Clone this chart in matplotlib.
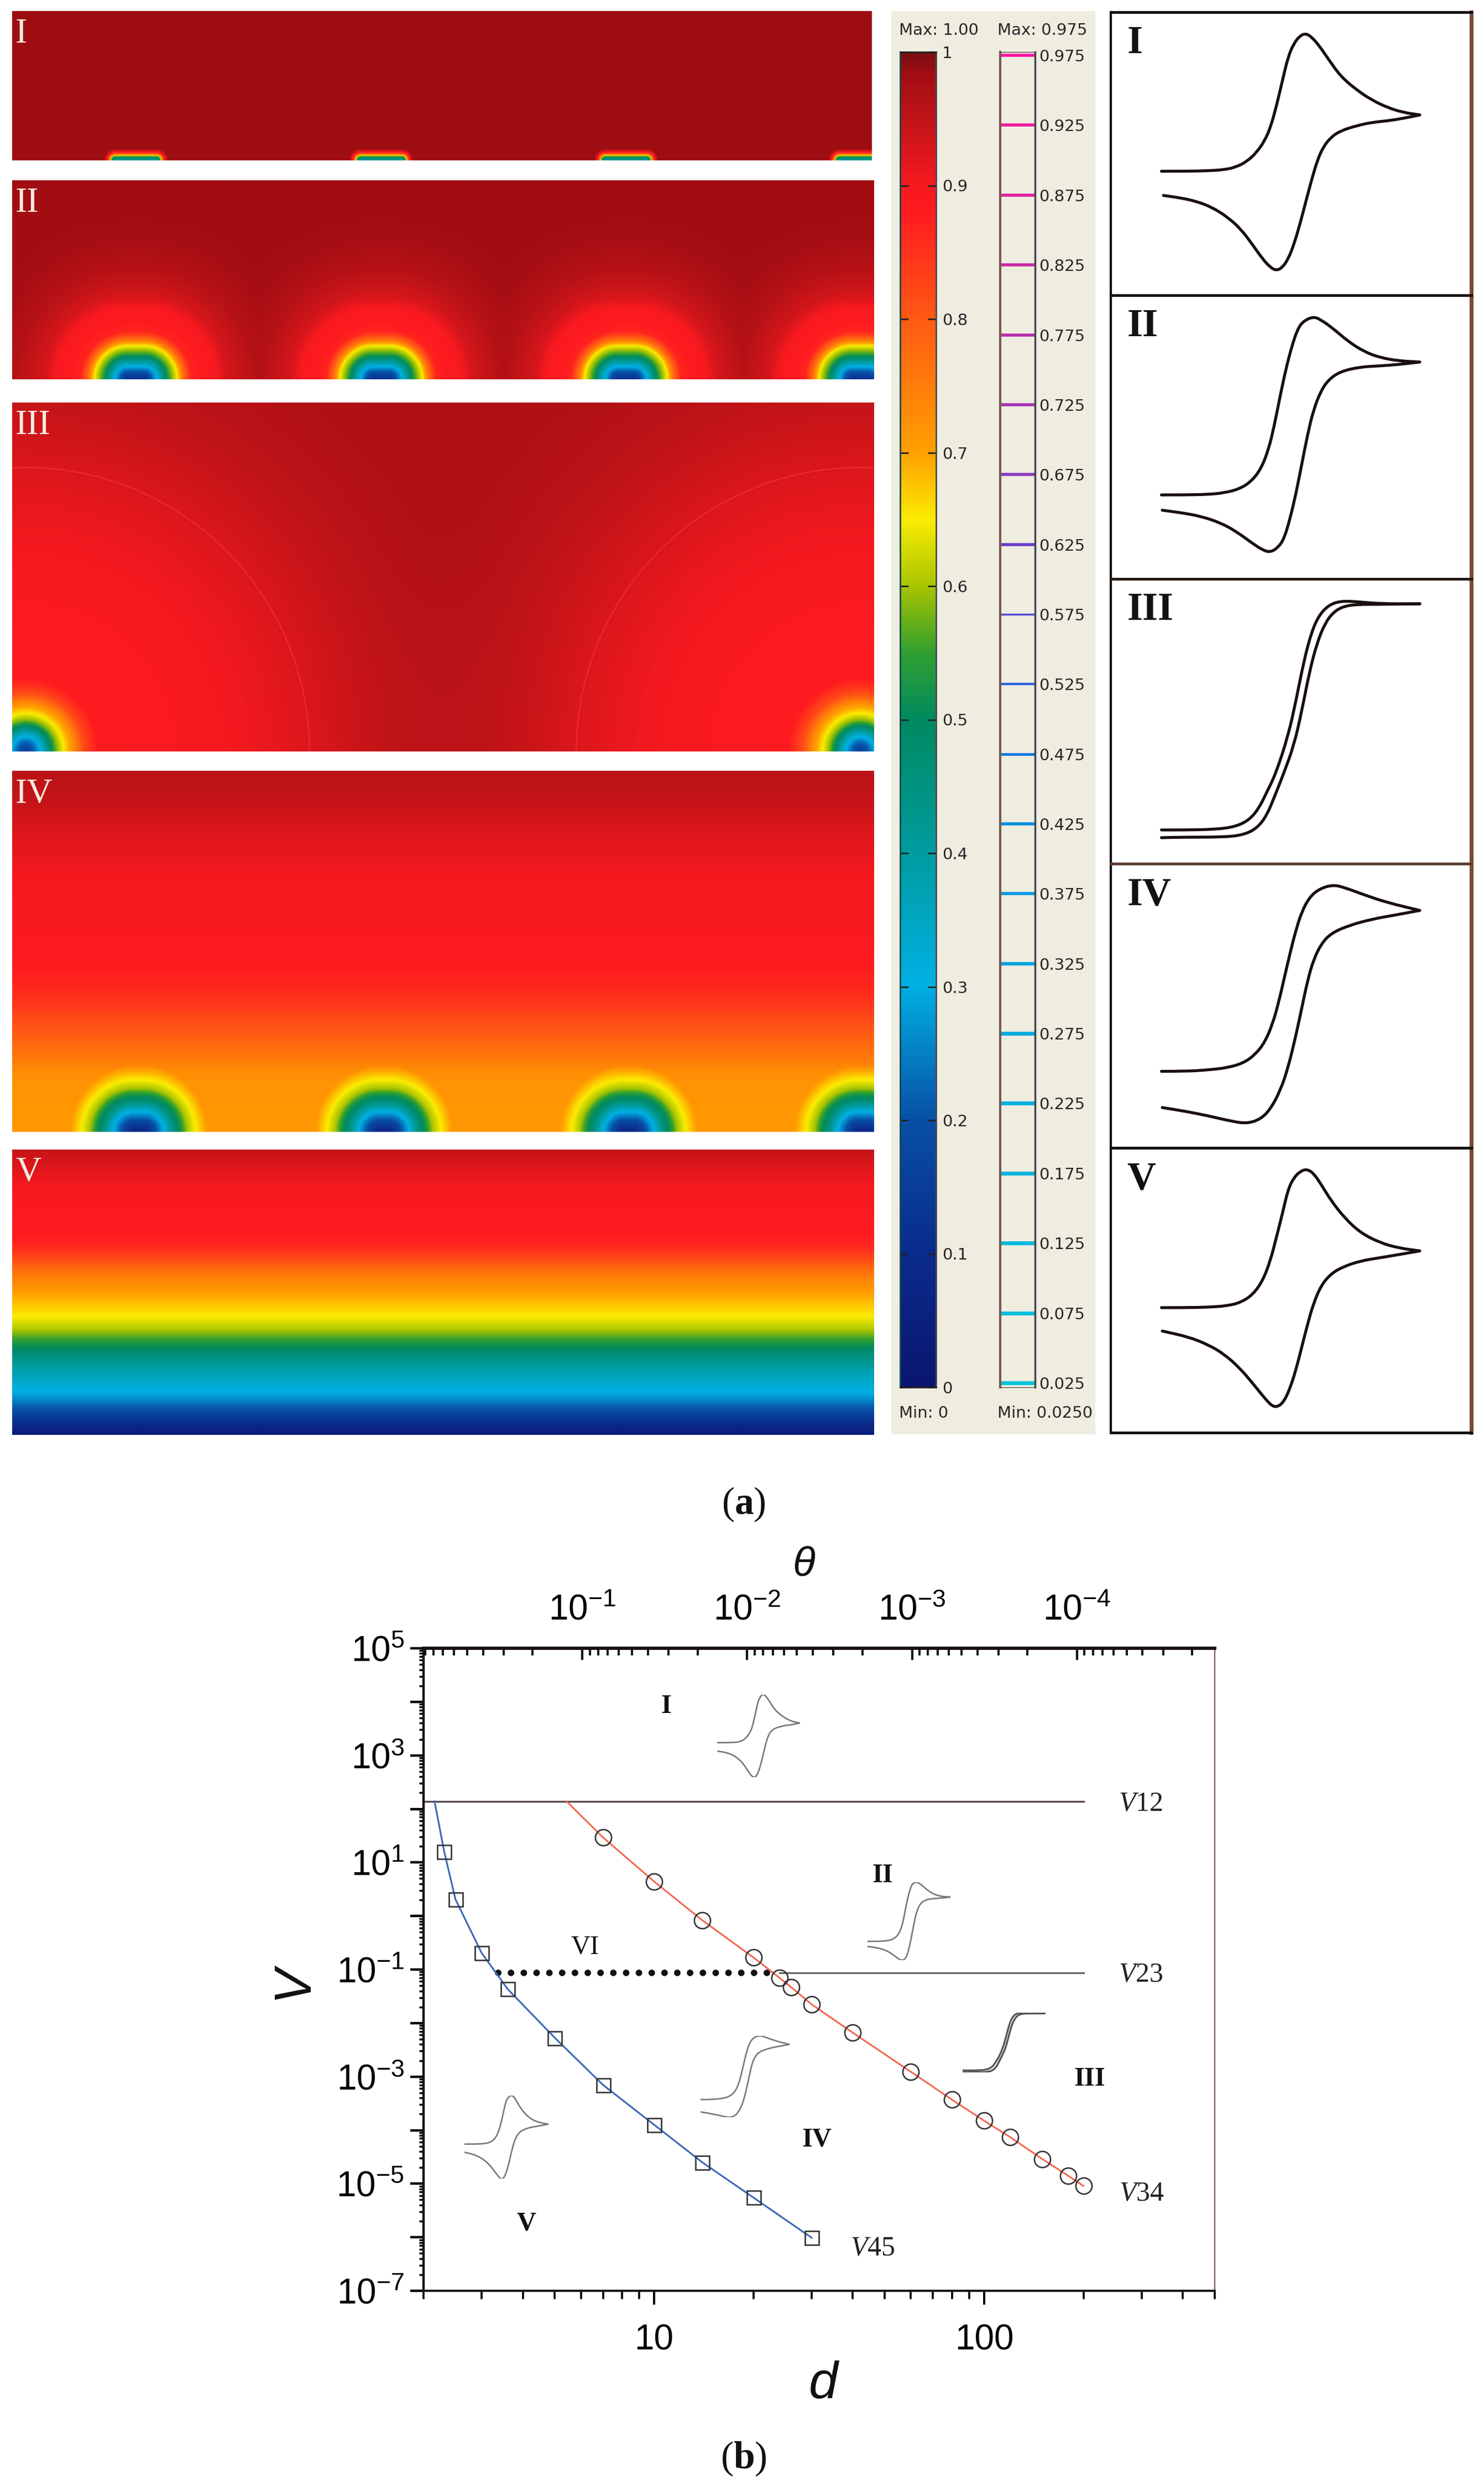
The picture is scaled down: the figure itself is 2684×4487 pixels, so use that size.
import numpy as np
import matplotlib
matplotlib.use("Agg")
import matplotlib.pyplot as plt
from matplotlib.colors import LinearSegmentedColormap
from matplotlib.patches import PathPatch
from matplotlib.path import Path
from matplotlib.ticker import LogLocator, NullFormatter

plt.rcParams['font.family'] = ['DejaVu Sans']
plt.rcParams['mathtext.fontset'] = 'custom'
plt.rcParams['mathtext.rm'] = 'Liberation Sans'
plt.rcParams['mathtext.it'] = 'Liberation Serif:italic'
plt.rcParams['mathtext.bf'] = 'Liberation Serif:bold'

# colour scale of the concentration maps
scale_pos = [0, 0.1, 0.2, 0.3, 0.4, 0.5, 0.55, 0.6, 0.65, 0.7, 0.8, 0.88, 0.9, 0.95, 0.985, 1]
scale_col = ['#0a1670', '#0a2c8c', '#0850a8', '#00b0e4', '#009ca0', '#008a60', '#30a030', '#a8c400',
             '#fbec00', '#ffa000', '#ff5a14', '#ff1c20', '#f81a20', '#c01418', '#a10d12', '#781012']

# contour levels of the second bar
level_values = [0.975, 0.925, 0.875, 0.825, 0.775, 0.725, 0.675, 0.625, 0.575, 0.525,
                0.475, 0.425, 0.375, 0.325, 0.275, 0.225, 0.175, 0.125, 0.075, 0.025]
level_widths = [4, 4, 4, 4, 4, 4, 4, 4, 2.5, 3, 3.5, 4, 4, 4.5, 5, 5, 5, 5, 5, 5]
level_pos = [0.025, 0.3, 0.45, 0.525, 0.6, 0.75, 0.875, 0.975]
level_col = ['#00c4d8', '#00a8e0', '#0088e0', '#2a60e0', '#6040d0', '#b030b0', '#e020a0', '#ff10a0']
bar_values = [0, 0.1, 0.2, 0.3, 0.4, 0.5, 0.6, 0.7, 0.8, 0.9, 1]
bar_labels = ['0', '0.1', '0.2', '0.3', '0.4', '0.5', '0.6', '0.7', '0.8', '0.9', '1']

# electrode positions along the maps
centres_I = [245, 689, 1132, 1556]
centres_II = [245, 689, 1132, 1556]
centres_III = [46, 1556]
centres_IV = [250, 694, 1137, 1561]

# concentration against distance from an electrode
r_I = [0, 5, 9, 13, 20, 40]
c_I = [0.42, 0.5, 0.72, 0.88, 0.985, 0.985]
r_II = [0, 12, 22, 35, 45, 60, 72, 85, 130, 150, 200, 260, 500]
c_II = [0.12, 0.2, 0.3, 0.45, 0.55, 0.65, 0.78, 0.87, 0.9, 0.93, 0.96, 0.98, 0.985]
r_III = [0, 15, 28, 42, 55, 68, 85, 105, 130, 350, 450, 510, 700, 900]
c_III = [0.15, 0.22, 0.32, 0.47, 0.58, 0.65, 0.72, 0.82, 0.88, 0.9, 0.915, 0.925, 0.96, 0.985]
r_IV = [0, 18, 35, 52, 65, 78, 93, 115, 135]
c_IV = [0.08, 0.18, 0.3, 0.45, 0.52, 0.6, 0.65, 0.71, 1.0]
h_IV = [0, 100, 130, 180, 250, 330, 450, 530, 600, 653]
b_IV = [0.71, 0.72, 0.75, 0.8, 0.86, 0.89, 0.9, 0.92, 0.945, 0.955]
h_V = [0, 20, 45, 76, 116, 147, 161, 188, 213, 246, 286, 330, 357, 446, 509, 516]
b_V = [0.03, 0.1, 0.2, 0.3, 0.38, 0.47, 0.52, 0.6, 0.65, 0.69, 0.75, 0.85, 0.88, 0.9, 0.94, 0.95]

# voltammograms, potential and current in the units of each frame
E1 = [740, 800, 860, 900, 930, 960, 985, 1005, 1020, 1035, 1050, 1065, 1080, 1095, 1110, 1125, 1145, 1170, 1200, 1240,
      1280, 1320, 1360, 1403, 1360, 1320, 1280, 1240, 1200, 1175, 1155, 1140, 1125, 1110, 1095, 1080, 1065, 1050, 1035,
      1020, 1000, 975, 945, 910, 870, 830, 790, 745]
i1 = [347, 347, 346, 344, 339, 327, 308, 285, 258, 215, 165, 115, 88, 73, 68, 75, 93, 122, 155, 182,
      203, 218, 228, 233, 240, 245, 248, 255, 265, 278, 298, 325, 365, 410, 455, 495, 525, 542, 548,
      542, 525, 497, 465, 440, 420, 408, 401, 396]
E2 = [740, 800, 860, 900, 940, 970, 995, 1015, 1030, 1045, 1060, 1075, 1090, 1105, 1130, 1150, 1180, 1220, 1260, 1300,
      1350, 1403, 1350, 1300, 1250, 1200, 1170, 1150, 1130, 1115, 1100, 1085, 1070, 1055, 1040, 1020, 1000, 970, 930,
      890, 840, 790, 742]
i2 = [1002, 1002, 1001, 998, 990, 975, 950, 910, 860, 800, 745, 700, 665, 650, 641, 648, 665, 692, 712, 724,
      731, 733, 738, 741, 743, 752, 768, 790, 830, 880, 940, 1000, 1050, 1090, 1108, 1118, 1114, 1098, 1075,
      1058, 1045, 1038, 1033]
E3a = [1403, 1300, 1240, 1200, 1170, 1145, 1125, 1105, 1085, 1065, 1033, 1010, 990, 965, 930, 880, 800, 740]
i3a = [1092, 1092, 1088, 1087, 1094, 1112, 1143, 1197, 1268, 1331, 1400, 1433, 1462, 1483, 1495, 1500, 1501, 1501]
E3b = [1403, 1300, 1240, 1205, 1180, 1160, 1140, 1120, 1100, 1080, 1053, 1030, 1010, 985, 950, 900, 800, 740]
i3b = [1092, 1093, 1093, 1097, 1108, 1127, 1161, 1214, 1286, 1348, 1400, 1441, 1475, 1498, 1510, 1514, 1514, 1515]
E4 = [740, 800, 860, 910, 950, 980, 1005, 1025, 1040, 1055, 1070, 1085, 1100, 1120, 1145, 1180, 1210, 1260, 1320, 1403,
      1340, 1280, 1220, 1175, 1150, 1130, 1115, 1100, 1085, 1065, 1045, 1020, 995, 960, 920, 860, 800, 742]
i4 = [648, 648, 645, 640, 630, 612, 585, 545, 500, 445, 390, 340, 300, 268, 250, 241, 247, 263, 280, 297,
      307, 316, 330, 347, 370, 405, 450, 510, 570, 640, 690, 730, 752, 762, 757, 745, 735, 727]
E5 = [740, 800, 860, 910, 945, 975, 1000, 1020, 1035, 1050, 1065, 1080, 1095, 1112, 1130, 1150, 1175, 1210, 1250, 1300,
      1350, 1403, 1350, 1300, 1250, 1205, 1175, 1150, 1130, 1115, 1100, 1085, 1070, 1055, 1040, 1025, 1005, 975, 940,
      900, 860, 810, 742]
i5 = [1164, 1164, 1163, 1160, 1152, 1135, 1105, 1060, 1010, 960, 905, 880, 867, 861, 870, 895, 930, 968, 1000, 1022,
      1034, 1040, 1048, 1055, 1062, 1075, 1090, 1115, 1155, 1200, 1250, 1300, 1340, 1368, 1380, 1380, 1362, 1330, 1295,
      1265, 1245, 1228, 1215]

# zone diagram
d_34 = [7, 10, 14, 20, 24, 26, 30, 40, 60, 80, 100, 120, 150, 180, 200]
v_34 = [29.3, 4.4, 0.83, 0.168, 0.0697, 0.047, 0.0224, 6.6e-3, 1.23e-3, 3.7e-4, 1.5e-4, 7.4e-5, 2.9e-5, 1.4e-5, 9.1e-6]
d_45 = [2.31, 2.5, 3.0, 3.6, 5, 7, 10, 14, 20, 30]
v_45 = [16, 2.04, 0.204, 0.043, 5.3e-3, 7e-4, 1.26e-4, 2.5e-5, 5.5e-6, 9.8e-7]
d_34_line = [5.43] + d_34
v_34_line = [138] + v_34
d_45_line = [2.16] + d_45
v_45_line = [138] + v_45
v12_d = [2, 200]
v12_v = [138, 138]
v23_d = [24, 200]
v23_v = [0.087, 0.087]
vi_d = [3.37, 23.5]
vi_v = [0.087, 0.087]
y_ticks = [1e-7, 1e-6, 1e-5, 1e-4, 1e-3, 1e-2, 1e-1, 1, 10, 100, 1e3, 1e4, 1e5]
y_labels = ['$\\mathdefault{10^{-7}}$', '', '$\\mathdefault{10^{-5}}$', '', '$\\mathdefault{10^{-3}}$', '',
            '$\\mathdefault{10^{-1}}$', '', '$\\mathdefault{10^{1}}$', '', '$\\mathdefault{10^{3}}$', '',
            '$\\mathdefault{10^{5}}$']
x_ticks = [10, 100]
x_labels = ['10', '100']
top_ticks = [1e-1, 1e-2, 1e-3, 1e-4]
top_labels = ['$\\mathdefault{10^{-1}}$', '$\\mathdefault{10^{-2}}$', '$\\mathdefault{10^{-3}}$', '$\\mathdefault{10^{-4}}$']

W, H = 2684, 4487
fig = plt.figure(figsize=(W / 100, H / 100), dpi=100, facecolor='white')


def box(x0, y0, x1, y1):
    # pixel box of the picture -> axes rectangle
    return [x0 / W, 1 - y1 / H, (x1 - x0) / W, (y1 - y0) / H]


def label(x, y, s, **kw):
    return fig.text(x / W, 1 - y / H, s, **kw)


def cv_patch(ax, e, i, col, lw):
    # quadratic curve through the read points, the far tip stays sharp
    tip = int(np.argmax(e))
    e = list(e[:tip + 1]) + list(e[tip:])
    i = list(i[:tip + 1]) + list(i[tip:])
    verts = [(e[0], i[0])]
    codes = [Path.MOVETO]
    for k in range(1, len(e) - 1):
        verts += [(e[k], i[k]), ((e[k] + e[k + 1]) / 2, (i[k] + i[k + 1]) / 2)]
        codes += [Path.CURVE3, Path.CURVE3]
    verts.append((e[-1], i[-1]))
    codes.append(Path.LINETO)
    ax.add_patch(PathPatch(Path(verts, codes), fc='none', ec=col, lw=lw, capstyle='round', joinstyle='round'))


cmap = LinearSegmentedColormap.from_list('conc', list(zip(scale_pos, scale_col)), N=512)
cmap2 = LinearSegmentedColormap.from_list('lev', [((p - 0.025) / 0.95, c) for p, c in zip(level_pos, level_col)])


def conc_field(x0, x1, height, centres, w, r, c, h_base=None, base=None, soft=None):
    xs, hs = np.meshgrid(np.arange(x0, x1, 2.0), np.arange(0, height, 2.0))
    f = np.ones_like(xs)
    for cx in centres:
        dx = np.maximum(np.abs(xs - cx) - w, 0)
        g = np.interp(np.hypot(dx, hs), r, c)
        if soft:
            # no hard crease where two electrodes meet
            f = -np.logaddexp(-soft * f, -soft * g) / soft
        else:
            f = np.minimum(f, g)
    if base is not None:
        f = np.minimum(f, np.interp(hs, h_base, base))
    return xs, hs, f


# concentration maps
maps = [(22, 20, 1577, 290, 'I', centres_I, 38, r_I, c_I, None, None, None),
        (22, 326, 1581, 686, 'II', centres_II, 15, r_II, c_II, None, None, None),
        (22, 728, 1581, 1359, 'III', centres_III, 0, r_III, c_III, None, None, 60),
        (22, 1394, 1581, 2047, 'IV', centres_IV, 10, r_IV, c_IV, h_IV, b_IV, None),
        (22, 2079, 1581, 2595, 'V', [], 0, [0, 1], [1, 1], h_V, b_V, None)]
for x0, y0, x1, y1, name, centres, w, r, c, hb, b, soft in maps:
    ax = fig.add_axes(box(x0, y0, x1, y1))
    xs, hs, f = conc_field(x0, x1, y1 - y0, centres, w, r, c, hb, b, soft)
    ax.imshow(f, origin='lower', extent=(x0, x1, 0, y1 - y0), cmap=cmap, vmin=0, vmax=1,
              aspect='auto', interpolation='bilinear')
    if name == 'III':
        ax.contour(xs, hs, f, levels=[0.925], colors='#ea262c', linewidths=2)
    ax.set_xlim(x0, x1)
    ax.set_ylim(0, y1 - y0)
    ax.axis('off')
    ax.text(x0 + 6, y1 - y0 - 42, name, family='Liberation Serif', fontsize=46, color='#f4ece0',
            va='center', ha='left')

# beige background of the two bars
bg = fig.add_axes(box(1612, 20, 1981, 2594))
bg.set_facecolor('#efece0')
bg.set_xticks([])
bg.set_yticks([])
for s in bg.spines.values():
    s.set_visible(False)
text_col = '#262626'
label(1626, 55, 'Max: 1.00', fontsize=21, color=text_col, va='center', ha='left')
label(1804, 55, 'Max: 0.975', fontsize=21, color=text_col, va='center', ha='left')
label(1626, 2556, 'Min: 0', fontsize=21, color=text_col, va='center', ha='left')
label(1804, 2556, 'Min: 0.0250', fontsize=21, color=text_col, va='center', ha='left')

# colour bar
cb = fig.add_axes(box(1628, 94, 1693, 2509))
cb.imshow(np.linspace(0, 1, 512).reshape(-1, 1), origin='lower', extent=(0, 1, 0, 1), cmap=cmap,
          aspect='auto', vmin=0, vmax=1)
cb.set_xticks([])
cb.set_yticks(bar_values)
cb.set_yticklabels(bar_labels, fontsize=21, color=text_col)
cb.tick_params(axis='y', direction='in', left=True, right=True, labelleft=False, labelright=True,
               length=11, width=2, pad=8, color='#222222')
for side, col in zip(['left', 'right', 'top', 'bottom'], ['#104850', '#4a4a50', '#222222', '#222222']):
    cb.spines[side].set_color(col)
    cb.spines[side].set_linewidth(2)

# contour level bar
lv = fig.add_axes(box(1809, 94, 1872, 2509))
lv.set_facecolor('#efece0')
lv.hlines(level_values, 0, 1, colors=[cmap2((v - 0.025) / 0.95) for v in level_values], linewidth=level_widths)
lv.set_xlim(0, 1)
lv.set_ylim(0.0218, 0.9774)
lv.set_xticks([])
lv.set_yticks(level_values)
lv.set_yticklabels(['%.3f' % v for v in level_values], fontsize=21, color=text_col)
lv.tick_params(axis='y', left=False, right=True, labelleft=False, labelright=True, length=0, pad=5)
lv.spines['left'].set_color('#7a5a50')
lv.spines['left'].set_linewidth(3)
lv.spines['right'].set_color('#444450')
lv.spines['right'].set_linewidth(2.5)
lv.spines['top'].set_color('#333333')
lv.spines['bottom'].set_color('#333333')

# voltammogram frames
frames = [(22, 534, (598, 25), 'I', [(E1, i1)]),
          (534, 1047, (1172, 598), 'II', [(E2, i2)]),
          (1047, 1562, (1562, 1047), 'III', [(E3a, i3a), (E3b, i3b)]),
          (1562, 2076, (815, 195), 'IV', [(E4, i4)]),
          (2076, 2591, (1437, 815), 'V', [(E5, i5)])]
bottom_cols = ['#1a1010', '#2a1a14', '#5a3a30', '#111111', '#111111']
for k, (y0, y1, ylim, name, curves) in enumerate(frames):
    ax = fig.add_axes(box(2009, y0, 2661, y1))
    for e, i in curves:
        cv_patch(ax, e, i, '#1a0f0f', 3.8)
    ax.set_xlim(610, 1535)
    ax.set_ylim(*ylim)
    ax.set_xticks([])
    ax.set_yticks([])
    ax.spines['left'].set_color('#111111')
    ax.spines['left'].set_linewidth(3)
    ax.spines['right'].set_color('#7a4a3a')
    ax.spines['right'].set_linewidth(5)
    ax.spines['top'].set_color('#111111' if k == 0 else bottom_cols[k - 1])
    ax.spines['top'].set_linewidth(3.5)
    ax.spines['bottom'].set_color(bottom_cols[k])
    ax.spines['bottom'].set_linewidth(3.5)
    ax.text(0.045, 0.89, name, transform=ax.transAxes, family='Liberation Serif', weight='bold',
            fontsize=52, color='#111111', va='center', ha='left')

label(1345, 2721, '($\\mathbf{a}$)', family='Liberation Serif', fontsize=50, color='#111111', ha='center', va='center')
label(1345, 4447, '($\\mathbf{b}$)', family='Liberation Serif', fontsize=50, color='#111111', ha='center', va='center')

# zone diagram
ax = fig.add_axes(box(766, 2981, 2197, 4143))
ax.set_xscale('log')
ax.set_yscale('log')
ax.plot(v12_d, v12_v, color='#5a4a4a', lw=2.4)
ax.plot(v23_d, v23_v, color='#6a6666', lw=2.4)
ax.plot(vi_d, vi_v, color='#111111', lw=8.5, linestyle=(0, (0.01, 1.95)), dash_capstyle='round')
ax.plot(d_34_line, v_34_line, color='#f06a50', lw=2.2)
ax.plot(d_45_line, v_45_line, color='#3a66b8', lw=2.2)
ax.plot(d_34, v_34, 'o', ms=21, mfc='none', mec='#333333', mew=1.9)
ax.plot(d_45, v_45, 's', ms=18, mfc='none', mec='#333333', mew=1.9)
ax.set_xlim(2, 500)
ax.set_ylim(1e-7, 1e5)
ax.set_yticks(y_ticks)
ax.set_yticklabels(y_labels)
ax.yaxis.set_minor_locator(LogLocator(base=10, subs=range(2, 10), numticks=30))
ax.yaxis.set_minor_formatter(NullFormatter())
ax.set_xticks(x_ticks)
ax.set_xticklabels(x_labels)
ax.xaxis.set_minor_locator(LogLocator(base=10, subs=range(2, 10), numticks=30))
ax.xaxis.set_minor_formatter(NullFormatter())
ax.tick_params(axis='y', which='major', length=17, width=3.2, pad=8, labelsize=46, labelfontfamily='Liberation Sans')
ax.tick_params(axis='y', which='minor', length=6, width=2.5)
ax.tick_params(axis='x', which='major', length=18, width=2.8, pad=25, labelsize=46, labelfontfamily='Liberation Sans')
ax.tick_params(axis='x', which='minor', length=11, width=2.6)
ax.spines['left'].set_linewidth(3.2)
ax.spines['left'].set_color('#1a1414')
ax.spines['bottom'].set_linewidth(2.8)
ax.spines['bottom'].set_color('#1a1414')
ax.spines['right'].set_linewidth(1.6)
ax.spines['right'].set_color('#7a5a50')
ax.spines['top'].set_visible(False)

label(1454, 2830, '\u03b8', family='Liberation Sans', style='italic', fontsize=54, color='#111111', ha='center', va='center')
label(530, 3584, 'V', family='Liberation Sans', style='italic', fontsize=68, color='#111111', rotation=90, ha='center', va='center')
label(1489, 4313, 'd', family='Liberation Sans', style='italic', fontsize=68, color='#111111', ha='center', va='center')

for x, y, s, bold in [(1205, 3086, 'I', True), (1596, 3392, 'II', True), (1058, 3521, 'VI', False),
                      (1971, 3760, 'III', True), (1477, 3870, 'IV', True), (952, 4022, 'V', True)]:
    label(x, y, s, family='Liberation Serif', weight='bold' if bold else 'normal', fontsize=35, color='#111111',
          ha='center', va='center')
for x, y, s in [(2063, 3263, '12'), (2063, 3572, '23'), (2065, 3968, '34'), (1578, 4067, '45')]:
    label(x, y, '$\\mathit{V}$' + s, family='Liberation Serif', fontsize=36, color='#222222', ha='center', va='center')

# small voltammograms inside the diagram
insets = [(1297, 3065, 1447, 3214, (546, 70), [(E1, i1)], '#777777', 1.9),
          (1569, 3404, 1719, 3545, (1116, 643), [(E2, i2)], '#777777', 1.9),
          (1741, 3640, 1891, 3748, (1515, 1087), [(E3a, i3a), (E3b, i3b)], '#555555', 2.4),
          (1267, 3682, 1428, 3829, (760, 243), [(E4, i4)], '#777777', 1.9),
          (840, 3790, 992, 3940, (1378, 863), [(E5, i5)], '#777777', 1.9)]
for x0, y0, x1, y1, ylim, curves, col, lw in insets:
    a = fig.add_axes(box(x0, y0, x1, y1))
    a.patch.set_alpha(0)
    for e, i in curves:
        cv_patch(a, e, i, col, lw)
    a.set_xlim(740, 1403)
    a.set_ylim(*ylim)
    a.axis('off')

# theta axis on top, own axes laid over the diagram
theta_ax = fig.add_axes(box(766, 2981, 2197, 4143), label='theta', zorder=20)
theta_ax.patch.set_alpha(0)
theta_ax.set_xscale('log')
theta_ax.set_xlim(0.918, 1.46e-5)
theta_ax.set_yticks([])
theta_ax.xaxis.tick_top()
theta_ax.set_xticks(top_ticks)
theta_ax.set_xticklabels(top_labels)
theta_ax.xaxis.set_minor_locator(LogLocator(base=10, subs=range(2, 10), numticks=30))
theta_ax.xaxis.set_minor_formatter(NullFormatter())
theta_ax.tick_params(axis='x', which='major', direction='in', length=15, width=3, pad=28, labelsize=46,
                     labelfontfamily='Liberation Sans', color='#111111')
theta_ax.tick_params(axis='x', which='minor', direction='in', length=9, width=2.8, color='#111111')
for side in ['left', 'right', 'bottom']:
    theta_ax.spines[side].set_visible(False)
theta_ax.spines['top'].set_linewidth(4.2)
theta_ax.spines['top'].set_color('#1a1010')

fig.savefig('out.png', dpi=100)
